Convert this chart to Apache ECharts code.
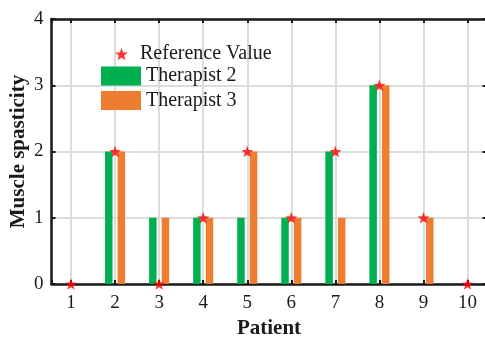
<!DOCTYPE html>
<html>
<head>
<meta charset="utf-8">
<script src="https://cdn.jsdelivr.net/npm/echarts@6/dist/echarts.min.js"></script>
<style>
  html, body { margin: 0; padding: 0; background: #fff; }
  #chart { width: 485px; height: 337px; }
</style>
</head>
<body>
<div id="chart"></div>
<script>
// Muscle spasticity scores per patient
const patients = [1, 2, 3, 4, 5, 6, 7, 8, 9, 10];
const referenceValue = [0, 2, 0, 1, 2, 1, 2, 3, 1, 0];
const therapist2 = [0, 2, 1, 1, 1, 1, 2, 3, 0, 0];
const therapist3 = [0, 2, 1, 1, 2, 1, 1, 3, 1, 0];
const yTicks = [0, 1, 2, 3, 4];

const FONT = '"Liberation Serif", "Times New Roman", serif';
const INK = '#1a1a1a';
const STAR = 'path://M0,-10 L2.35,-3.24 L9.51,-3.09 L3.8,1.24 L5.88,8.09 L0,4 L-5.88,8.09 L-3.8,1.24 L-9.51,-3.09 L-2.35,-3.24 Z';

const pairs = (vals) => patients.map((p, i) => [p, vals[i]]);

const xCommon = {
  type: 'value',
  min: 0.557,
  max: 10.43,
  minInterval: 1,
  maxInterval: 1,
  axisLine: { show: true, onZero: false, lineStyle: { color: INK, width: 2.5 } },
  axisTick: { show: true, inside: true, length: 4, lineStyle: { color: INK, width: 2 } }
};
const yCommon = {
  type: 'value',
  min: yTicks[0],
  max: yTicks[yTicks.length - 1],
  interval: 1,
  axisLine: { show: true, lineStyle: { color: INK, width: 2.5 } },
  axisTick: { show: true, inside: true, length: 4, lineStyle: { color: INK, width: 2 } }
};

const chart = echarts.init(document.getElementById('chart'), null, { renderer: 'canvas' });
chart.setOption({
  backgroundColor: '#fff',
  animation: false,
  grid: { left: 51.5, right: -1.5, top: 19, bottom: 53, containLabel: false, outerBoundsMode: 'none' },
  legend: [
    {
      data: ['Reference Value'],
      left: 110, top: 39,
      icon: STAR,
      itemWidth: 13, itemHeight: 13,
      textStyle: { fontFamily: FONT, fontSize: 20, color: INK, padding: [0, 0, 0, 7] }
    },
    {
      data: ['Therapist 2', 'Therapist 3'],
      orient: 'vertical',
      left: 96, top: 61,
      icon: 'rect',
      itemWidth: 40, itemHeight: 19, itemGap: 4.5,
      textStyle: { fontFamily: FONT, fontSize: 20, color: INK }
    }
  ],
  xAxis: [
    Object.assign({}, xCommon, {
      position: 'bottom',
      name: 'Patient',
      nameLocation: 'middle',
      nameGap: 34,
      nameMoveOverlap: false,
      nameTextStyle: { fontFamily: FONT, fontSize: 21, fontWeight: 'bold', color: INK },
      axisLabel: {
        margin: 10, fontFamily: FONT, fontSize: 19, color: INK,
        formatter: (v) => (Number.isInteger(v) ? String(v) : '')
      },
      splitLine: { show: true, lineStyle: { color: '#dcdcdc', width: 2 } }
    }),
    Object.assign({}, xCommon, {
      position: 'top',
      axisLabel: { show: false },
      splitLine: { show: false }
    })
  ],
  yAxis: [
    Object.assign({}, yCommon, {
      position: 'left',
      name: 'Muscle spasticity',
      nameLocation: 'middle',
      nameGap: 22,
      nameMoveOverlap: false,
      nameTextStyle: { fontFamily: FONT, fontSize: 21, fontWeight: 'bold', color: INK },
      axisLabel: { margin: 8, fontFamily: FONT, fontSize: 19, color: INK },
      splitLine: { show: true, lineStyle: { color: '#dcdcdc', width: 2 } }
    }),
    Object.assign({}, yCommon, {
      position: 'right',
      axisLabel: { show: false },
      splitLine: { show: false }
    })
  ],
  series: [
    {
      name: 'Therapist 2',
      type: 'bar',
      data: pairs(therapist2),
      barWidth: 7.5,
      barGap: '68%',
      itemStyle: { color: '#00b050' },
      z: 3
    },
    {
      name: 'Therapist 3',
      type: 'bar',
      data: pairs(therapist3),
      barWidth: 7.5,
      barGap: '68%',
      itemStyle: { color: '#ed7d31' },
      z: 3
    },
    {
      name: 'Reference Value',
      type: 'scatter',
      data: pairs(referenceValue),
      symbol: STAR,
      symbolSize: [12, 11.5],
      itemStyle: { color: '#ff0000' },
      z: 5
    }
  ]
});
</script>
</body>
</html>
